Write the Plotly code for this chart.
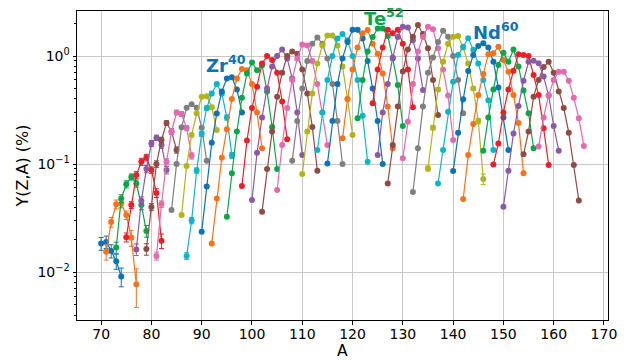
import math
import plotly.graph_objects as go

# Isotopic yields Y(Z,A) in %, one list per element, consecutive mass numbers
z_values = list(range(30, 67))
first_mass = [70, 71, 73, 75, 77, 79, 81, 84, 86, 87,
              90, 92, 95, 98, 100, 102, 105, 108, 110, 113,
              115, 118, 121, 124, 125, 127, 130, 132, 135, 137,
              140, 142, 146, 148, 150, 154, 157]
yields = [
    [0.0184, 0.019, 0.0157, 0.0126, 0.0091],                                   # Zn
    [0.0154, 0.029, 0.0424, 0.0432, 0.0337, 0.0208, 0.0077],                   # Ga
    [0.0169, 0.048, 0.065, 0.076, 0.066, 0.0417, 0.024],                       # Ge
    [0.021, 0.0417, 0.079, 0.105, 0.115, 0.088, 0.054, 0.0195],                # As
    [0.0162, 0.0457, 0.09, 0.155, 0.175, 0.15, 0.088],                         # Se
    [0.0163, 0.04, 0.1, 0.167, 0.24, 0.2, 0.135],                              # Br
    [0.0141, 0.0426, 0.105, 0.2, 0.30, 0.29, 0.215, 0.119],                    # Kr
    [0.0375, 0.10, 0.219, 0.332, 0.357, 0.332, 0.217, 0.107],                  # Rb
    [0.0337, 0.096, 0.186, 0.295, 0.42, 0.425, 0.335, 0.206],                  # Sr
    [0.0141, 0.030, 0.087, 0.19, 0.33, 0.45, 0.55, 0.45, 0.27, 0.12],          # Y
    [0.0236, 0.062, 0.157, 0.294, 0.47, 0.62, 0.635, 0.49, 0.30],              # Zr
    [0.0184, 0.048, 0.114, 0.21, 0.40, 0.62, 0.76, 0.74, 0.55, 0.30, 0.14],    # Nb
    [0.0325, 0.082, 0.20, 0.41, 0.69, 0.87, 0.74, 0.82, 0.47, 0.22, 0.09],     # Mo
    [0.0625, 0.165, 0.33, 0.52, 0.85, 1.0, 0.92, 0.70, 0.38, 0.17],            # Tc
    [0.0464, 0.127, 0.27, 0.50, 0.80, 1.0, 1.15, 0.95, 0.62, 0.30, 0.121],     # Ru
    [0.0362, 0.090, 0.20, 0.42, 0.70, 1.0, 1.1, 1.05, 0.75, 0.45, 0.22, 0.0866],  # Rh
    [0.0575, 0.15, 0.33, 0.6, 0.95, 1.28, 1.25, 0.9, 0.55, 0.3, 0.15],         # Pd
    [0.107, 0.25, 0.5, 0.9, 1.3, 1.48, 1.3, 0.95, 0.55, 0.25, 0.10],           # Ag
    [0.081, 0.2, 0.45, 0.85, 1.25, 1.55, 1.55, 1.25, 0.8, 0.4, 0.186],         # Cd
    [0.135, 0.3, 0.6, 1.0, 1.45, 1.6, 1.4, 1.0, 0.6, 0.28, 0.105],             # In
    [0.101, 0.25, 0.55, 0.95, 1.35, 1.75, 1.75, 1.45, 0.9, 0.5, 0.25, 0.1],    # Sn
    [0.173, 0.4, 0.75, 1.2, 1.62, 1.74, 1.3, 1.05, 0.69, 0.34, 0.14],          # Sb
    [0.265, 0.6, 1.1, 1.5, 1.8, 1.8, 1.53, 0.95, 0.54, 0.225],                 # Te
    [0.365, 0.75, 1.2, 1.75, 1.62, 1.75, 1.3, 0.75, 0.335],                    # I
    [0.121, 0.3, 0.55, 0.97, 1.5, 1.87, 1.84, 1.4, 0.95, 0.485],               # Xe
    [0.066, 0.15, 0.34, 0.72, 1.15, 1.51, 1.94, 1.6, 1.18, 0.6, 0.284],        # Cs
    [0.113, 0.246, 0.55, 1.1, 1.5, 1.87, 1.77, 1.18, 0.75, 0.43, 0.167],       # Ba
    [0.055, 0.14, 0.34, 0.7, 0.97, 1.35, 1.71, 1.51, 1.0, 0.6, 0.295],         # La
    [0.091, 0.217, 0.49, 0.885, 1.3, 1.51, 1.53, 1.2, 0.85, 0.5, 0.25, 0.0727],  # Ce
    [0.066, 0.135, 0.305, 0.578, 1.02, 1.22, 1.46, 1.14, 0.85, 0.6, 0.39, 0.135],  # Pr
    [0.086, 0.195, 0.397, 0.726, 1.02, 1.24, 1.31, 1.2, 0.885, 0.51, 0.27, 0.135],  # Nd
    [0.0474, 0.121, 0.235, 0.435, 0.68, 1.04, 1.06, 1.22, 0.918, 0.715, 0.435, 0.24, 0.082],  # Pm
    [0.133, 0.27, 0.49, 0.825, 1.07, 0.885, 1.15, 0.80, 0.48, 0.295, 0.14],    # Sm
    [0.099, 0.155, 0.30, 0.49, 0.73, 1.04, 1.02, 1.0, 0.667, 0.435, 0.214, 0.098],  # Eu
    [0.0403, 0.0866, 0.192, 0.344, 0.59, 0.885, 0.905, 0.855, 0.645, 0.43, 0.225, 0.133],  # Gd
    [0.123, 0.2, 0.42, 0.6, 0.79, 0.885, 0.7, 0.47, 0.33, 0.195, 0.098, 0.046],  # Tb
    [0.145, 0.27, 0.435, 0.6, 0.715, 0.715, 0.59, 0.41, 0.265, 0.147],         # Dy
]
# error bars (only where they show outside the markers)
yield_err = {
    30: [0.0025, 0.0025, 0.0022, 0.002, 0.0018],
    31: [0.0025, 0.003, 0.004, 0.004, 0.003, 0.0035, 0.003],
    32: [0.002, 0.004, 0.005, 0.005, 0.005, 0.004, 0.003],
    33: [0.002, 0.003, 0.006, 0.008, 0.008, 0.006, 0.005, 0.003],
    34: [0.002, 0.004, 0.007, 0.01, 0.01, 0.01, 0.007],
    35: [0.002, 0.003, 0.007, 0.01, 0.012, 0.012, 0.009],
    36: [0.0012, 0.003, 0.007, 0.012, 0.015, 0.015, 0.012, 0.008],
    39: [0.001, 0.002, 0.005, 0.01, 0.015, 0.02, 0.02, 0.02, 0.015, 0.008],
    58: [0.005, 0.01, 0.02, 0.03, 0.04, 0.04, 0.04, 0.04, 0.03, 0.02, 0.015, 0.008],
}

palette = ["#0f72b4", "#f5731c", "#0ea44a", "#e8202a", "#8a5aa6",
           "#8e4c44", "#e36aae", "#7f7f7f", "#b2b41e", "#10b4c8"]

labels = [("Zr<sup>40</sup>", 94.8, 0.84, palette[0]),
          ("Te<sup>52</sup>", 126.2, 2.28, palette[2]),
          ("Nd<sup>60</sup>", 148.6, 1.70, palette[0])]

fig = go.Figure()
for i, z in enumerate(z_values):
    ys = yields[i]
    xs = list(range(first_mass[i], first_mass[i] + len(ys)))
    col = palette[(z - 30) % 10]
    err = None
    if z in yield_err:
        err = dict(type="data", array=yield_err[z], color=col, thickness=1, width=2.5)
    fig.add_trace(go.Scatter(
        x=xs, y=ys, mode="lines+markers",
        line=dict(color=col, width=1.2),
        marker=dict(color=col, size=6),
        error_y=err, showlegend=False))

for text, ax_, ay_, col in labels:
    fig.add_annotation(x=ax_, y=math.log10(ay_), text="<b>" + text + "</b>", showarrow=False,
                       font=dict(family="DejaVu Sans", size=18, color=col))

# x-axis title placed as a paper annotation so it clears the tick labels
fig.add_annotation(x=0.5, y=-0.1, xref="paper", yref="paper", text="A",
                   showarrow=False, yanchor="middle",
                   font=dict(family="DejaVu Sans", size=15.5, color="black"))

axis_font = dict(family="DejaVu Sans", size=14, color="black")
fig.update_layout(
    width=628, height=360,
    margin=dict(l=77, r=20, t=11, b=40),
    paper_bgcolor="white", plot_bgcolor="white",
    font=axis_font,
)
fig.update_xaxes(
    range=[65.2, 170.8], tickvals=list(range(70, 171, 10)),
    showgrid=True, gridcolor="#c8c8c8", gridwidth=1,
    showline=True, linecolor="black", linewidth=1, mirror=True,
    ticks="outside", ticklen=3.5, tickcolor="black",
    ticklabelstandoff=-2,
    zeroline=False, automargin=False,
)
fig.update_yaxes(
    type="log", range=[-2.444, 0.4166],
    tickvals=[0.01, 0.1, 1],
    ticktext=["10<sup>\u22122</sup>", "10<sup>\u22121</sup>", "10<sup>0</sup>"],
    showgrid=True, gridcolor="#c8c8c8", gridwidth=1,
    showline=True, linecolor="black", linewidth=1, mirror=True,
    ticks="outside", ticklen=3.5, tickcolor="black",
    minor=dict(ticks="outside", ticklen=2, tickcolor="black", dtick="D1", showgrid=False),
    title=dict(text="Y(Z,A) (%)", font=dict(family="DejaVu Sans", size=16), standoff=4),
    zeroline=False, automargin=False,
)

# drop the browser's default page margin so the figure sits at the window corner
fig.write_html("out.html", config={"displayModeBar": False},
               post_script="document.body.style.margin='0px';")
